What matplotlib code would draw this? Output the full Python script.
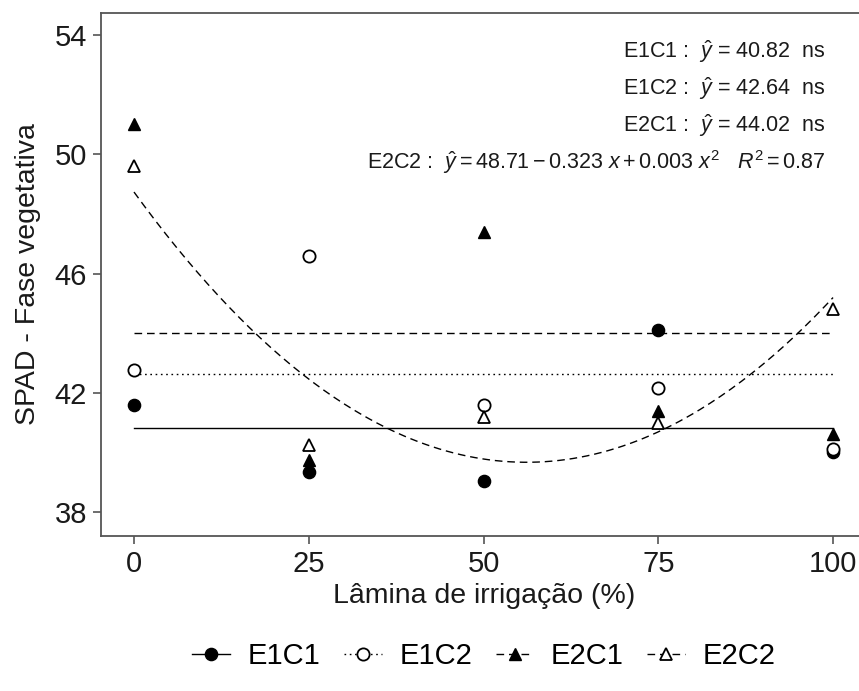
import numpy as np
import matplotlib
matplotlib.use("Agg")
import matplotlib.pyplot as plt
from matplotlib.lines import Line2D

plt.rcParams['font.family'] = ['Liberation Sans', 'DejaVu Sans']
plt.rcParams['mathtext.fontset'] = 'custom'
plt.rcParams['mathtext.rm'] = 'Liberation Sans'
plt.rcParams['mathtext.it'] = 'Liberation Sans:italic'

# data
lamina = [0, 25, 50, 75, 100]
e1c1 = [41.6, 39.35, 39.05, 44.1, 40.0]
e1c2 = [42.75, 46.6, 41.6, 42.15, 40.1]
e2c1 = [51.0, 39.75, 47.4, 41.4, 40.6]
e2c2 = [49.6, 40.25, 41.2, 41.0, 44.8]
means = {'E1C1': 40.82, 'E1C2': 42.64, 'E2C1': 44.02}

W, H = 859, 691
fig = plt.figure(figsize=(W / 100, H / 100), dpi=100)
# axes box in pixels: left 101, right 868 (cut by the image edge), top 13, bottom 536
ax = fig.add_axes([101 / W, (H - 536) / H, 767 / W, 523 / H])

dot = (0, (1.2, 2.6))
dash = (0, (5.5, 3.5))
lw = 1.0
ms = 8.8
k = 'black'

# fitted lines
ax.plot([0, 100], [means['E1C1']] * 2, color=k, lw=lw, ls='-')
ax.plot([0, 100], [means['E1C2']] * 2, color=k, lw=lw, ls=dot)
ax.plot([0, 100], [means['E2C1']] * 2, color=k, lw=lw, ls=dash)
coef = np.polyfit(lamina, e2c2, 2)
xs = np.linspace(0, 100, 200)
ax.plot(xs, np.polyval(coef, xs), color=k, lw=lw, ls=dash)

# points
ax.plot(lamina, e1c1, 'o', color=k, ms=ms, ls='none')
ax.plot(lamina, e1c2, 'o', mfc='white', mec=k, mew=1.3, ms=ms, ls='none')
ax.plot(lamina, e2c1, '^', color=k, ms=ms + 0.5, ls='none')
ax.plot(lamina, e2c2, '^', mfc='white', mec=k, mew=1.3, ms=ms + 0.5, ls='none')

ax.set_xlim(-4.72, 105)
ax.set_ylim(37.195, 54.738)
ax.set_xticks([0, 25, 50, 75, 100])
ax.set_yticks([38, 42, 46, 50, 54])
ax.tick_params(labelsize=21, length=6, width=1.2, color='#555555', labelcolor='#1a1a1a', pad=4)
for s in ax.spines.values():
    s.set_color('#555555')
    s.set_linewidth(1.3)
ax.spines['right'].set_visible(False)

ax.set_xlabel('Lâmina de irrigação (%)', fontsize=20.5, color='#1a1a1a', labelpad=4)
ax.set_ylabel('SPAD - Fase vegetativa', fontsize=20.5, color='#1a1a1a', labelpad=10)

# equations, right aligned
eq = [
    r'E1C1 :  $\hat{y}$ = 40.82  ns',
    r'E1C2 :  $\hat{y}$ = 42.64  ns',
    r'E2C1 :  $\hat{y}$ = 44.02  ns',
    r'E2C2 :  $\hat{y} = 48.71 - 0.323\ x + 0.003\ x^{2}\ \ \ R^{2} = 0.87$',
]
rows = [52, 89, 126, 162]
for t, r in zip(eq, rows):
    fig.text(826 / W, 1 - r / H, t, ha='right', va='center', fontsize=15.5, color='#1a1a1a')

handles = [
    Line2D([], [], color=k, lw=lw, ls='-', marker='o', ms=ms),
    Line2D([], [], color=k, lw=lw, ls=dot, marker='o', mfc='white', mew=1.3, ms=ms),
    Line2D([], [], color=k, lw=lw, ls=dash, marker='^', ms=ms + 0.5),
    Line2D([], [], color=k, lw=lw, ls=dash, marker='^', mfc='white', mew=1.3, ms=ms + 0.5),
]
fig.legend(handles, ['E1C1', 'E1C2', 'E2C1', 'E2C2'], loc='center',
           bbox_to_anchor=(484 / W, 1 - 656 / H), ncol=4, frameon=False,
           fontsize=21, handlelength=1.3, handletextpad=0.6, columnspacing=0.8)

fig.savefig('out.png', dpi=100)
